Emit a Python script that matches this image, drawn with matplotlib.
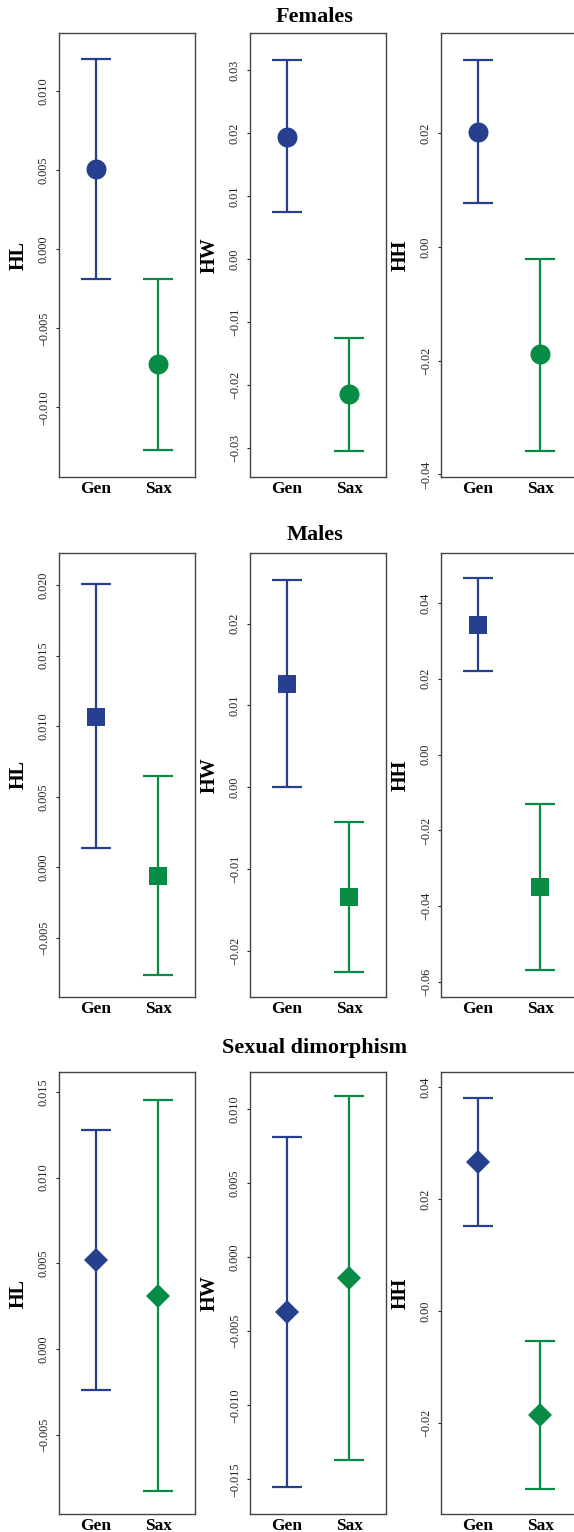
import matplotlib
matplotlib.use("Agg")
import matplotlib.pyplot as plt
from matplotlib.ticker import MultipleLocator, FuncFormatter

# ---------------- data ----------------
groups = ["Gen", "Sax"]
traits = ["HL", "HW", "HH"]
row_titles = ["Females", "Males", "Sexual dimorphism"]

# Females: per trait [Gen, Sax]
females_mean = [[0.00507, -0.00729], [0.01945, -0.0215], [0.02025, -0.01889]]
females_lower = [[-0.0019, -0.01272], [0.00742, -0.0305], [0.00769, -0.0358]]
females_upper = [[0.01204, -0.0019], [0.0316, -0.0126], [0.03292, -0.00206]]

# Males
males_mean = [[0.01068, -0.0006], [0.01268, -0.01339], [0.03427, -0.03487]]
males_lower = [[0.00135, -0.00759], [0.0000, -0.02257], [0.02203, -0.0568]]
males_upper = [[0.02009, 0.0065], [0.02529, -0.00421], [0.0465, -0.01295]]

# Sexual dimorphism
sd_mean = [[0.00519, 0.00311], [-0.00369, -0.0014], [0.02658, -0.01855]]
sd_lower = [[-0.00239, -0.00828], [-0.0155, -0.01368], [0.01529, -0.0317]]
sd_upper = [[0.0128, 0.01451], [0.00812, 0.01088], [0.038, -0.0053]]

# axis ranges and tick steps per panel
ylims = [
    [(-0.01441, 0.01369), (-0.0346, 0.0359), (-0.04044, 0.03762)],
    [(-0.00918, 0.02227), (-0.02563, 0.02864), (-0.06394, 0.05321)],
    [(-0.00962, 0.01616), (-0.01734, 0.0125), (-0.03622, 0.0427)],
]
tick_steps = [[0.005, 0.01, 0.02], [0.005, 0.01, 0.02], [0.005, 0.005, 0.02]]
tick_decimals = [[3, 2, 2], [3, 2, 2], [3, 3, 2]]

means = [females_mean, males_mean, sd_mean]
lowers = [females_lower, males_lower, sd_lower]
uppers = [females_upper, males_upper, sd_upper]

colors = ["#263f8f", "#078c46"]
row_markers = [("o", 14.4), ("s", 12.4), ("D", 12.5)]

# ---------------- layout ----------------
W, H = 574, 1532
fig = plt.figure(figsize=(W / 100, H / 100), dpi=100)
serif = "Liberation Serif"

col_left = [59, 250, 441]
ax_w = 136
row_top = [33, 553, 1072]
row_bot = [477, 997, 1514]
title_y = [17, 535, 1048]


def make_fmt(nd):
    def f(v, pos):
        s = f"{v:.{nd}f}"
        if abs(v) < 10 ** (-nd - 1):
            s = f"{0:.{nd}f}"
        return s.replace("-", "\u2212")
    return FuncFormatter(f)


for r in range(3):
    fig.text(315 / W, 1 - title_y[r] / H, row_titles[r], ha="center", va="center",
             fontsize=16, fontweight="bold", family=serif)
    for c in range(3):
        ax = fig.add_axes([col_left[c] / W, 1 - row_bot[r] / H, ax_w / W,
                           (row_bot[r] - row_top[r]) / H])
        mk, ms = row_markers[r]
        for g in range(2):
            m = means[r][c][g]
            lo = lowers[r][c][g]
            hi = uppers[r][c][g]
            ax.errorbar([g + 1], [m], yerr=[[m - lo], [hi - m]], fmt="none",
                        ecolor=colors[g], elinewidth=1.6,
                        capsize=11, capthick=1.6)
            ax.plot([g + 1], [m], marker=mk, color=colors[g], ms=ms, mew=0,
                    linestyle="none")
        ax.set_xlim(0.41, 2.59)
        ax.set_ylim(*ylims[r][c])
        ax.yaxis.set_major_locator(MultipleLocator(tick_steps[r][c]))
        ax.yaxis.set_major_formatter(make_fmt(tick_decimals[r][c]))
        ax.set_xticks([1, 2])
        ax.set_xticklabels(groups, fontsize=12.5, fontweight="bold", family=serif)
        ax.tick_params(axis="x", length=0, pad=3)
        ax.tick_params(axis="y", length=2.5, width=0.8, pad=4, labelsize=8.8,
                       colors="#222222", labelrotation=90)
        for lab in ax.get_yticklabels():
            lab.set_family(serif)
            lab.set_va("center")
        ax.set_ylabel(traits[c], fontsize=14.5, fontweight="bold", family=serif)
        ax.yaxis.set_label_coords(-0.30, 0.5)
        ax.yaxis.label.set_va("center")
        for s in ax.spines.values():
            s.set_color("#444444")
            s.set_linewidth(1.0)

fig.savefig("out.png", dpi=100)
